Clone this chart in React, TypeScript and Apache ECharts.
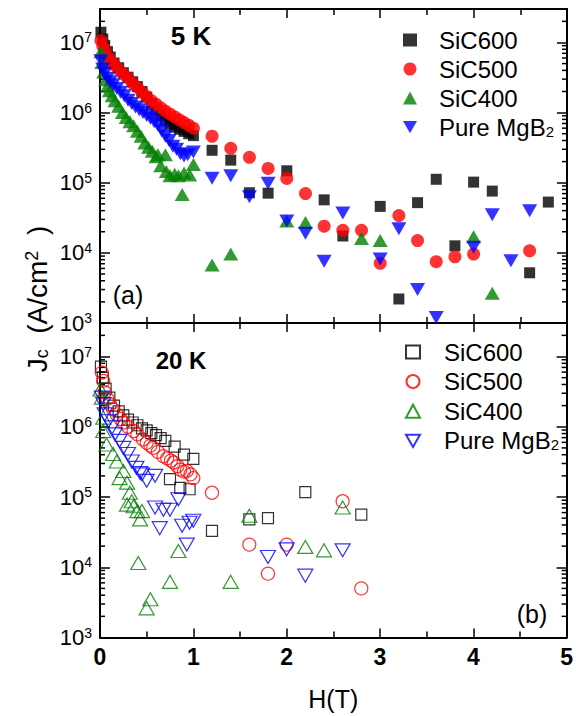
import React, { useEffect, useRef } from 'react';
import * as echarts from 'echarts';

const FONT = '"Liberation Sans", Arial, Helvetica, sans-serif';

// ---- Panel (a): 5 K  [H (T), Jc (A/cm^2)] ----
const sic600_5K: number[][] = [
  [0.01, 1.4e7], [0.03, 1.12e7], [0.05, 9.1e6], [0.08, 7.4e6], [0.11, 6.2e6], [0.15, 5.1e6],
  [0.2, 4.35e6], [0.25, 3.7e6], [0.3, 3.2e6], [0.35, 2.75e6], [0.4, 2.35e6], [0.45, 2.0e6],
  [0.5, 1.66e6], [0.55, 1.35e6], [0.6, 1.1e6], [0.65, 9.1e5], [0.7, 7.6e5], [0.75, 6.8e5],
  [0.8, 6.2e5], [0.85, 5.8e5], [0.9, 5.4e5], [0.95, 5.0e5], [1.0, 4.7e5],
  [1.2, 2.9e5], [1.4, 2.1e5], [1.6, 7.2e4], [1.8, 7.1e4], [2.0, 1.48e5], [2.4, 5.7e4],
  [2.6, 1.74e4], [3.0, 4.6e4], [3.2, 2.2e3], [3.4, 5.2e4], [3.6, 1.12e5], [3.8, 1.26e4],
  [4.0, 1.02e5], [4.2, 7.6e4], [4.6, 5.2e3], [4.8, 5.3e4],
];
const sic500_5K: number[][] = [
  [0.01, 1.07e7], [0.03, 8.9e6], [0.05, 7.6e6], [0.08, 6.3e6], [0.1, 5.75e6], [0.13, 5.1e6],
  [0.16, 4.7e6], [0.2, 4.1e6], [0.25, 3.55e6], [0.3, 3.1e6], [0.35, 2.6e6], [0.4, 2.3e6],
  [0.45, 1.95e6], [0.5, 1.7e6], [0.55, 1.48e6], [0.6, 1.32e6], [0.65, 1.17e6], [0.7, 1.05e6],
  [0.75, 9.5e5], [0.8, 8.7e5], [0.85, 7.9e5], [0.9, 7.2e5], [0.95, 6.6e5], [1.0, 6.0e5],
  [1.2, 4.6e5], [1.4, 3.1e5], [1.6, 2.3e5], [1.8, 1.6e5], [2.0, 1.15e5], [2.2, 7.0e4],
  [2.4, 2.4e4], [2.6, 2.1e4], [2.8, 2.1e4], [3.0, 7.1e3], [3.2, 3.4e4], [3.4, 1.5e4],
  [3.6, 7.5e3], [3.8, 8.8e3], [4.0, 9.6e3], [4.6, 1.07e4],
];
const sic400_5K: number[][] = [
  [0.01, 7.4e6], [0.02, 5.2e6], [0.04, 3.8e6], [0.06, 2.95e6], [0.08, 2.4e6], [0.1, 2.05e6],
  [0.13, 1.74e6], [0.16, 1.48e6], [0.2, 1.23e6], [0.24, 1.0e6], [0.28, 8.5e5], [0.32, 7.4e5],
  [0.36, 6.5e5], [0.4, 5.4e5], [0.44, 4.6e5], [0.48, 3.7e5], [0.52, 3.2e5], [0.56, 2.8e5],
  [0.6, 2.35e5], [0.62, 2.5e5], [0.65, 1.74e5], [0.7, 2.5e5], [0.71, 1.45e5], [0.75, 1.26e5],
  [0.8, 1.32e5], [0.84, 1.26e5], [0.88, 6.8e4], [0.9, 1.38e5], [0.96, 1.29e5], [1.0, 1.82e5],
  [1.2, 6.7e3], [1.4, 9.6e3], [2.0, 2.85e4], [2.2, 2.7e4], [2.8, 1.6e4], [3.0, 1.5e4],
  [4.0, 1.7e4], [4.2, 2.65e3],
];
const mgb2_5K: number[][] = [
  [0.01, 5.5e6], [0.03, 4.2e6], [0.05, 3.6e6], [0.08, 3.1e6], [0.11, 2.75e6], [0.14, 2.5e6],
  [0.18, 2.2e6], [0.22, 1.95e6], [0.26, 1.74e6], [0.3, 1.5e6], [0.34, 1.35e6], [0.38, 1.2e6],
  [0.42, 1.1e6], [0.46, 1.0e6], [0.5, 9.1e5], [0.54, 8.3e5], [0.58, 7.4e5], [0.62, 6.6e5],
  [0.66, 5.5e5], [0.7, 4.6e5], [0.74, 4.0e5], [0.78, 3.3e5], [0.82, 3.0e5], [0.86, 2.6e5],
  [0.9, 2.4e5], [0.94, 2.5e5], [1.0, 2.75e5],
  [1.2, 1.16e5], [1.4, 1.26e5], [1.6, 6.3e4], [1.8, 9.8e4], [2.0, 2.85e4], [2.2, 1.9e4],
  [2.4, 7.6e3], [2.6, 3.7e4], [3.0, 8.2e3], [3.2, 2.2e4], [3.4, 3.0e3], [3.6, 1.2e3],
  [4.0, 1.2e4], [4.2, 3.5e4], [4.4, 7.7e3], [4.6, 4.0e4],
];

// ---- Panel (b): 20 K ----
const sic600_20K: number[][] = [
  [0.01, 7.2e6], [0.03, 5.0e6], [0.06, 3.5e6], [0.1, 2.6e6], [0.15, 2.0e6], [0.2, 1.66e6],
  [0.25, 1.45e6], [0.3, 1.26e6], [0.35, 1.15e6], [0.4, 1.05e6], [0.45, 9.5e5], [0.5, 8.9e5],
  [0.55, 8.1e5], [0.6, 7.6e5], [0.65, 6.9e5], [0.7, 6.3e5], [0.8, 5.2e5], [0.9, 4.0e5],
  [1.0, 3.5e5], [0.75, 1.8e5], [0.86, 1.35e5], [0.96, 1.29e5],
  [1.2, 3.3e4], [1.6, 4.8e4], [1.8, 5.0e4], [2.2, 1.17e5], [2.8, 5.6e4],
];
const sic500_20K: number[][] = [
  [0.02, 5.9e6], [0.035, 4.5e6], [0.05, 3.1e6], [0.08, 2.5e6], [0.107, 2.1e6], [0.14, 1.78e6],
  [0.18, 1.5e6], [0.22, 1.29e6], [0.25, 1.15e6], [0.3, 1.0e6], [0.36, 8.7e5], [0.4, 7.8e5],
  [0.46, 6.6e5], [0.5, 5.9e5], [0.54, 5.4e5], [0.57, 5.0e5], [0.62, 4.4e5], [0.68, 3.8e5],
  [0.72, 3.55e5], [0.76, 3.3e5], [0.79, 3.1e5], [0.83, 2.75e5], [0.86, 2.45e5], [0.9, 2.3e5],
  [0.93, 2.35e5], [0.97, 2.1e5], [1.0, 1.86e5],
  [1.2, 1.15e5], [1.6, 2.1e4], [1.8, 8.1e3], [2.0, 2.1e4], [2.6, 8.7e4], [2.8, 5.0e3],
];
const sic400_20K: number[][] = [
  [0.005, 3.4e6], [0.02, 2.6e6], [0.035, 1.35e6], [0.035, 8.7e5], [0.07, 5.6e5], [0.14, 4.1e5],
  [0.18, 3.2e5], [0.21, 1.86e5], [0.25, 2.35e5], [0.29, 1.6e5], [0.32, 1.15e5], [0.29, 7.8e4],
  [0.34, 8.7e4], [0.36, 7.4e4], [0.4, 6.3e4], [0.43, 4.8e4], [0.45, 6.3e4], [0.41, 1.15e4],
  [0.54, 3.5e3], [0.5, 2.6e3], [0.75, 6.2e3], [0.84, 1.7e4],
  [1.4, 6.2e3], [1.6, 5.4e4], [2.2, 1.95e4], [2.4, 1.74e4], [2.6, 7.1e4],
];
const mgb2_20K: number[][] = [
  [0.02, 2.6e6], [0.035, 2.1e6], [0.05, 1.5e6], [0.09, 1.2e6], [0.13, 9.8e5], [0.16, 7.8e5],
  [0.21, 6.3e5], [0.25, 5.0e5], [0.3, 4.1e5], [0.34, 3.2e5], [0.39, 2.6e5], [0.45, 2.1e5],
  [0.5, 1.7e5], [0.59, 2.0e5], [0.43, 2.2e5], [0.59, 7.1e4], [0.68, 6.6e4], [0.75, 6.6e4],
  [0.84, 9.3e4], [0.64, 3.6e4], [0.88, 3.9e4], [0.96, 4.3e4], [0.93, 2.1e4], [1.0, 4.6e4],
  [1.8, 1.4e4], [2.0, 1.8e4], [2.2, 7.6e3], [2.6, 1.74e4],
];

const seriesNames = ['SiC600', 'SiC500', 'SiC400', 'Pure MgB2'];
const suffix20 = ' (20 K)';
const seriesNames20 = seriesNames.map((n) => n + suffix20);
const xTickValues = [0, 1, 2, 3, 4, 5];
const yMin = 1e3;
const yMax = 3e7;

// minor log ticks (2..9 x 10^n) inside the log range
const minorLogTicks: number[] = [];
for (let e = 3; e <= 7; e++) {
  for (let m = 2; m <= 9; m++) {
    const v = m * Math.pow(10, e);
    if (v < yMax) minorLogTicks.push(v);
  }
}

const BLACK = '#000000';
const RED = '#ff0000';
const GREEN = '#008000';
const BLUE = '#0000ff';
const DOWN_TRIANGLE = 'path://M0,0L16,0L8,14Z';

export default function App() {
  const ref = useRef<HTMLDivElement>(null);
  useEffect(() => {
    if (!ref.current) return;
    const chart = echarts.init(ref.current, undefined, { renderer: 'svg' });

    const xAx = (gridIndex: number, position: string, showLabel: boolean) => ({
      type: 'value',
      gridIndex,
      position,
      min: xTickValues[0],
      max: xTickValues[xTickValues.length - 1],
      interval: 1,
      axisLine: { onZero: false, lineStyle: { color: '#000', width: 2 } },
      axisTick: { inside: true, length: 9, lineStyle: { color: '#000', width: 1.5 } },
      minorTick: { show: true, splitNumber: 2, length: 6, lineStyle: { color: '#000', width: 1.5 } },
      splitLine: { show: false },
      minorSplitLine: { show: false },
      axisLabel: showLabel
        ? { show: true, margin: 8, color: '#000', fontSize: 23, fontWeight: 'bold', fontFamily: FONT }
        : { show: false },
      ...(showLabel
        ? {
            name: 'H(T)',
            nameLocation: 'middle',
            nameGap: 49,
            nameTextStyle: { color: '#000', fontSize: 25, fontFamily: FONT },
          }
        : {}),
    });

    const yLabel = (v: number) => {
      const e = Math.log10(v);
      const r = Math.round(e);
      if (Math.abs(e - r) > 1e-6) return '';
      return `{b|10}{s|${r}}`;
    };

    const yAx = (gridIndex: number, position: string, showLabel: boolean) => ({
      type: 'log',
      logBase: 10,
      gridIndex,
      position,
      min: yMin,
      max: yMax,
      axisLine: { onZero: false, lineStyle: { color: '#000', width: 2 } },
      axisTick: { inside: true, length: 10, lineStyle: { color: '#000', width: 1.5 } },
      splitLine: { show: false },
      axisLabel: showLabel
        ? {
            show: true,
            margin: 8,
            formatter: yLabel,
            color: '#000',
            showMaxLabel: false,
            rich: {
              b: { fontSize: 22, fontFamily: FONT, color: '#000', lineHeight: 24 },
              s: { fontSize: 14, fontFamily: FONT, color: '#000', verticalAlign: 'top', lineHeight: 14 },
            },
          }
        : { show: false },
    });

    const scatter = (
      name: string,
      data: number[][],
      symbol: string,
      size: number | number[],
      color: string,
      hollow: boolean,
      axisIdx: number,
      rotate = 0,
    ) => ({
      type: 'scatter',
      name,
      data,
      symbol,
      symbolSize: size,
      symbolRotate: rotate,
      xAxisIndex: axisIdx,
      yAxisIndex: axisIdx,
      itemStyle: hollow
        ? { color: 'rgba(255,255,255,0)', borderColor: color, borderWidth: 1.2 }
        : { color, borderWidth: 0 },
      emphasis: { disabled: true },
    });

    const minorTickSeries = (axisIdx: number) => ({
      type: 'custom',
      xAxisIndex: axisIdx,
      yAxisIndex: axisIdx,
      silent: true,
      clip: false,
      data: minorLogTicks.map((v) => [0, v]),
      encode: { x: 0, y: 1 },
      renderItem: (_p: any, api: any) => {
        const v = api.value(1);
        const a = api.coord([0, v]);
        const b = api.coord([5, v]);
        const st = { stroke: '#000', lineWidth: 1.5 };
        return {
          type: 'group',
          children: [
            { type: 'line', shape: { x1: a[0], y1: a[1], x2: a[0] + 5, y2: a[1] }, style: st },
            { type: 'line', shape: { x1: b[0], y1: b[1], x2: b[0] - 5, y2: b[1] }, style: st },
          ],
        };
      },
    });

    const legendFormatter = (name: string) => {
      const n = name.replace(suffix20, '');
      if (n === 'Pure MgB2') return '{t|Pure MgB}{u|2}';
      return `{t|${n}}`;
    };
    const legendText = (padLeft: number) => ({
      color: '#000',
      fontSize: 24,
      fontFamily: FONT,
      lineHeight: 23,
      padding: [0, 0, 0, padLeft],
      rich: {
        t: { fontSize: 24, fontFamily: FONT, color: '#000', lineHeight: 23 },
        u: { fontSize: 15, fontFamily: FONT, color: '#000', verticalAlign: 'bottom', lineHeight: 15 },
      },
    });
    const legendData = (names: string[]) =>
      names.map((n, i) => (i === 3 ? { name: n, icon: DOWN_TRIANGLE } : { name: n }));

    const option: any = {
      animation: false,
      backgroundColor: '#ffffff',
      textStyle: { fontFamily: FONT },
      grid: [
        { left: 100, top: 9, width: 467, height: 314 },
        { left: 100, top: 323, width: 467, height: 314.5 },
      ],
      xAxis: [xAx(0, 'bottom', false), xAx(0, 'top', false), xAx(1, 'bottom', true), xAx(1, 'top', false)],
      yAxis: [yAx(0, 'left', true), yAx(0, 'right', false), yAx(1, 'left', true), yAx(1, 'right', false)],
      legend: [
        {
          data: legendData(seriesNames),
          orient: 'vertical',
          left: 398,
          top: 23,
          itemWidth: 14,
          itemHeight: 13,
          itemGap: 5,
          selectedMode: false,
          formatter: legendFormatter,
          textStyle: legendText(17),
        },
        {
          data: legendData(seriesNames20),
          orient: 'vertical',
          left: 400,
          top: 335,
          itemWidth: 14,
          itemHeight: 13,
          itemGap: 5.6,
          selectedMode: false,
          formatter: legendFormatter,
          textStyle: legendText(19),
        },
      ],
      graphic: [
        {
          type: 'text',
          x: 37,
          y: 299,
          rotation: Math.PI / 2,
          style: {
            text: 'J{sub|c}  (A/cm{sup|2}  )',
            fontSize: 28,
            fontFamily: FONT,
            fill: '#000',
            align: 'center',
            verticalAlign: 'middle',
            rich: {
              sub: { fontSize: 18, fontFamily: FONT, fill: '#000', verticalAlign: 'bottom', lineHeight: 18 },
              sup: { fontSize: 18, fontFamily: FONT, fill: '#000', verticalAlign: 'top', lineHeight: 18 },
            },
          },
        },
        {
          type: 'text', x: 191, y: 36,
          style: { text: '5 K', fontSize: 26, fontWeight: 'bold', fontFamily: FONT, fill: '#000', align: 'center', verticalAlign: 'middle' },
        },
        {
          type: 'text', x: 181, y: 360,
          style: { text: '20 K', fontSize: 24, fontWeight: 'bold', fontFamily: FONT, fill: '#000', align: 'center', verticalAlign: 'middle' },
        },
        {
          type: 'text', x: 128, y: 295,
          style: { text: '(a)', fontSize: 25, fontFamily: FONT, fill: '#000', align: 'center', verticalAlign: 'middle' },
        },
        {
          type: 'text', x: 532, y: 614,
          style: { text: '(b)', fontSize: 25, fontFamily: FONT, fill: '#000', align: 'center', verticalAlign: 'middle' },
        },
      ],
      series: [
        minorTickSeries(0),
        minorTickSeries(2),
        scatter(seriesNames[0], sic600_5K, 'rect', 11, BLACK, false, 0),
        scatter(seriesNames[1], sic500_5K, 'circle', 13, RED, false, 0),
        scatter(seriesNames[2], sic400_5K, 'triangle', [15, 13], GREEN, false, 0),
        scatter(seriesNames[3], mgb2_5K, 'triangle', [15, 13], BLUE, false, 0, 180),
        scatter(seriesNames20[0], sic600_20K, 'rect', 11, BLACK, true, 2),
        scatter(seriesNames20[1], sic500_20K, 'circle', 13, RED, true, 2),
        scatter(seriesNames20[2], sic400_20K, 'triangle', [15, 13], GREEN, true, 2),
        scatter(seriesNames20[3], mgb2_20K, 'triangle', [15, 13], BLUE, true, 2, 180),
      ],
    };
    chart.setOption(option);
    return () => chart.dispose();
  }, []);
  return <div ref={ref} style={{ position: 'absolute', left: 0, top: 0, width: 576, height: 716 }} />;
}
